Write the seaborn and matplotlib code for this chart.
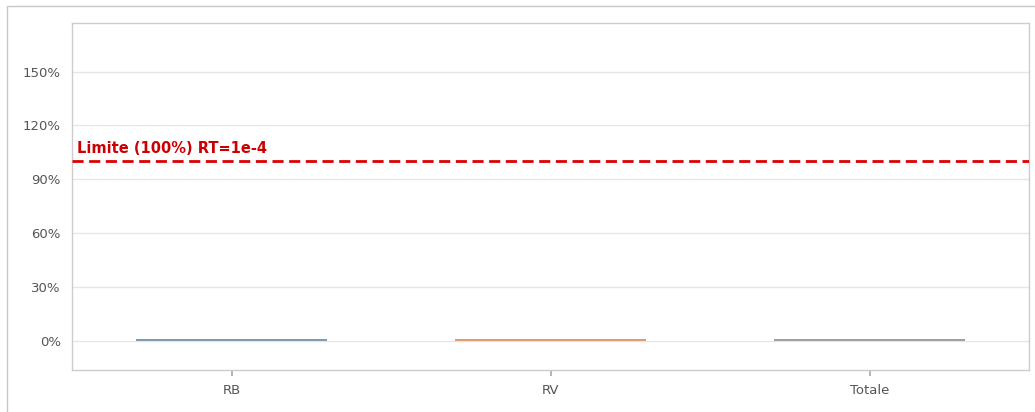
import matplotlib
matplotlib.use("Agg")
import matplotlib.pyplot as plt
import matplotlib.patches as mpatches
import seaborn as sns
import pandas as pd

# dati
categorie = ["RB", "RV", "Totale"]
valori = [1.1, 1.1, 1.1]  # percentuale, quasi zero
colori = ["#7f9cb2", "#e09b76", "#a0a0a0"]
limite = 100
etichetta_limite = "Limite (100%) RT=1e-4"
yticks = [0, 30, 60, 90, 120, 150]

sns.set_theme(style="white")
plt.rcParams["font.family"] = ["DejaVu Sans"]

fig = plt.figure(figsize=(10.35, 4.12), dpi=100)
ax = fig.add_axes([72 / 1035, 1 - 370 / 412, (1029 - 72) / 1035, (370 - 23) / 412])

df = pd.DataFrame({"categoria": categorie, "valore": valori})
sns.barplot(data=df, x="categoria", y="valore", hue="categoria", palette=colori,
            width=0.6, legend=False, ax=ax, saturation=1, linewidth=0)

ax.set_xlim(-0.5, 2.5)
ax.set_ylim(-16, 177)
ax.set_yticks(yticks)
ax.set_yticklabels([f"{v}%" for v in yticks])
ax.yaxis.grid(True, color="#e6e6e6", linewidth=1)
ax.set_axisbelow(True)
ax.set_xlabel("")
ax.set_ylabel("")

ax.axhline(limite, color="#dd0000", linestyle=(0, (4, 2)), linewidth=2, zorder=3)
ax.text(0.005, limite + 3, etichetta_limite, transform=ax.get_yaxis_transform(),
        color="#cc0000", fontsize=10.5, fontweight="bold", ha="left", va="bottom")

for s in ax.spines.values():
    s.set_color("#cccccc")
    s.set_linewidth(1)

ax.tick_params(axis="y", length=0, labelsize=9.5, labelcolor="#555555", pad=8)
ax.tick_params(axis="x", length=4, color="#aaaaaa", bottom=True, labelsize=9.5,
               labelcolor="#555555", pad=6)

# cornice esterna
fig.patches.append(mpatches.Rectangle((7 / 1035, -0.1), 1.2, 1 - 6 / 412 + 0.1,
                                      transform=fig.transFigure, fill=False,
                                      edgecolor="#c8c8c8", linewidth=1))

fig.savefig("out.png", dpi=100)
